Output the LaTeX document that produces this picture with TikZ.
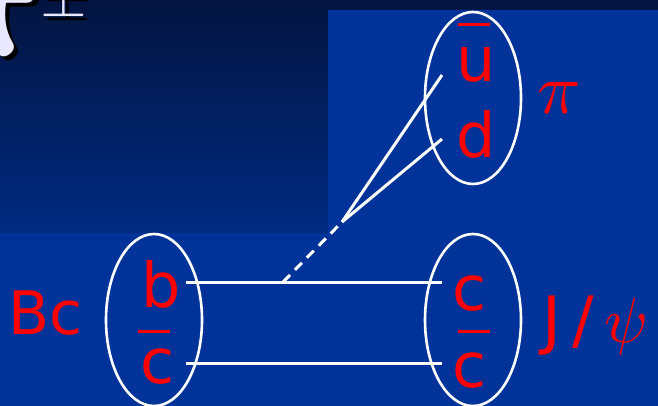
\documentclass[tikz,border=0pt]{standalone}
\usepackage{fontspec}
\usepackage{unicode-math}
\newfontfamily\slidefont{DejaVu Sans}
\usepackage{tikz}
\usetikzlibrary{positioning, shapes.geometric, calc}
\definecolor{deepnavy}{RGB}{3, 20, 64}
\definecolor{midnavy}{RGB}{0, 43, 130}
\definecolor{slideblue}{RGB}{0, 51, 153}
\definecolor{quarkred}{RGB}{255, 0, 0}
\definecolor{titlewhite}{RGB}{232, 232, 255}

\begin{document}
\begin{tikzpicture}[x=1pt, y=-1pt, node distance=20pt,
    hadron/.style={ellipse, draw=white, line width=2.6pt, minimum width=96pt, minimum height=172pt, inner sep=0pt},
    quark/.style={text=quarkred, font=\slidefont\fontsize{62}{62}\selectfont, inner sep=0pt, anchor=base},
    hadronname/.style={text=quarkred, font=\slidefont\fontsize{60}{60}\selectfont, inner sep=0pt},
    titletext/.style={font=\fontsize{150}{150}\selectfont, inner sep=0pt},
    antibar/.style={draw=quarkred, line width=3pt},
    quarkline/.style={draw=white, line width=3pt}]
    \useasboundingbox (0,0) rectangle (658,406);
    \clip (0,0) rectangle (658,406);
    % slide background
    \shade [top color=deepnavy, bottom color=midnavy] (0,0) rectangle (658,234);
    \fill [slideblue] (328,10) -- (658,10) -- (658,406) -- (0,406) -- (0,233) -- (328,233) -- cycle;

    % title, cut at the top
    \node [titletext, text=black, anchor=base east] at (44,60) {$\symbfit{\pi}$};
    \node [titletext, text=titlewhite, anchor=base east] (pi) at (40,56) {$\symbfit{\pi}$};
    \node [titletext, text=black, font=\fontsize{60}{60}\selectfont, anchor=base west] at (44,16) {$\pm$};
    \node [titletext, text=titlewhite, font=\fontsize{60}{60}\selectfont, anchor=base west] (pm) at (40,12) {$\pm$};

    % mesons
    \node [hadron] (bc) at (154,320) {};
    \node [hadron] (jpsi) at (473,320) {};
    \node [hadron] (pion) at (473,98) {};

    \node [quark] (qb) at (161,307) {b};
    \node [quark] (qcb) at (158,383) {c};
    \draw [antibar] ($(bc.center)+(-16,11)$) -- ($(bc.center)+(16,11)$);
    \node [quark] (qc) at (470,310) {c};
    \node [quark] (qcbb) at (470,387) {c};
    \draw [antibar] ($(jpsi.center)+(-15,11)$) -- ($(jpsi.center)+(17,11)$);
    \node [quark] (qub) at (476,82) {u};
    \node [quark] (qd) at (476,158) {d};
    \draw [antibar] ($(pion.center)+(-15,-73)$) -- ($(pion.center)+(17,-73)$);

    \node [hadronname, left=22pt of bc, yshift=7pt] (bclabel) {Bc};
    \node [hadronname, right=20pt of jpsi, yshift=-6pt, font=\slidefont\fontsize{64}{64}\selectfont] (jpsilabel) {J\,/\,$\psi$};
    \node [hadronname, right=15pt of pion, font=\fontsize{72}{72}\selectfont] (pilabel) {$\pi$};

    % quark lines
    \coordinate (bq) at ($(bc.center)+(32,-38)$);
    \coordinate (cbq) at ($(bc.center)+(32,43)$);
    \coordinate (cq) at ($(jpsi.center)+(-31,-38)$);
    \coordinate (cbbq) at ($(jpsi.center)+(-31,43)$);
    \coordinate (wstart) at (283,282);
    \coordinate (wvtx) at (342,222);
    \coordinate (ubq) at ($(pion.center)+(-31,-23)$);
    \coordinate (dq) at ($(pion.center)+(-31,41)$);

    \draw [quarkline] (bq) -- (cq);
    \draw [quarkline] (cbq) -- (cbbq);
    \draw [quarkline, dash pattern=on 10pt off 7pt] (wstart) -- (wvtx);
    \draw [quarkline] (wvtx) -- (ubq);
    \draw [quarkline] (wvtx) -- (dq);
\end{tikzpicture}
\end{document}
